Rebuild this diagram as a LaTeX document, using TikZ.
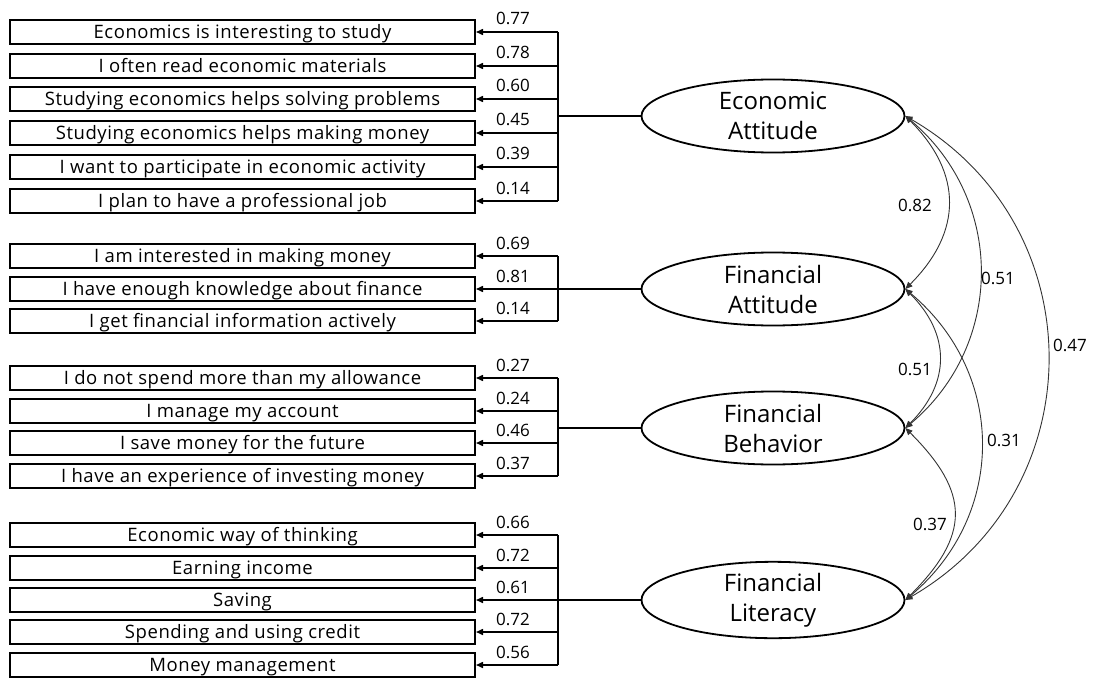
\documentclass[tikz,border=0pt]{standalone}
\usepackage{fontspec}
\setmainfont{Open Sans}
\newfontfamily\itemfont[LetterSpace=3]{Open Sans}
\usetikzlibrary{arrows.meta,shapes.geometric}
\begin{document}
\begin{tikzpicture}[x=1pt,y=-1pt,
  item/.style={draw, line width=2pt, minimum width=465pt, minimum height=24pt,
    inner sep=0pt, text height=12.5pt, text depth=0pt, font=\itemfont\fontsize{18.5}{20}\selectfont},
  latent/.style={draw, ellipse, line width=1.8pt, minimum width=263pt, minimum height=73pt,
    inner sep=0pt, align=center, font=\fontsize{24}{30}\selectfont},
  load/.style={line width=1.5pt, -{Triangle[length=7pt,width=6pt]}},
  bus/.style={line width=2pt},
  cov/.style={line width=0.9pt, draw=black!80,
    {Triangle[length=7pt,width=6pt]}-{Triangle[length=7pt,width=6pt]}},
  num/.style={font=\fontsize{17}{20}\selectfont, anchor=base, inner sep=0pt},
  covnum/.style={font=\fontsize{17}{20}\selectfont, inner sep=0pt}
]
\useasboundingbox (0,0) rectangle (1094,679);
\foreach \yy/\vv/\txt [count=\i] in {
  32/0.77/Economics is interesting to study,
  66/0.78/I often read economic materials,
  99/0.60/Studying economics helps solving problems,
  133/0.45/Studying economics helps making money,
  167/0.39/I want to participate in economic activity,
  201/0.14/I plan to have a professional job,
  256/0.69/I am interested in making money,
  289/0.81/I have enough knowledge about finance,
  321/0.14/I get financial information actively,
  378/0.27/I do not spend more than my allowance,
  411/0.24/I manage my account,
  443/0.46/I save money for the future,
  476/0.37/I have an experience of investing money,
  535/0.66/Economic way of thinking,
  568/0.72/Earning income,
  600/0.61/Saving,
  632/0.72/Spending and using credit,
  665/0.56/Money management}{
  \node[item] (b\i) at (242.5,\yy) {\txt};
  \coordinate (k\i) at (558,\yy);
  \draw[load] (k\i) -- (b\i.east);
  \node[num] at (513,\yy-7) {\vv};
}
% latent variables
\node[latent] (EA) at (773,116) {Economic\\Attitude};
\node[latent] (FA) at (773,289) {Financial\\Attitude};
\node[latent] (FB) at (773,428) {Financial\\Behavior};
\node[latent] (FL) at (773,600) {Financial\\Literacy};
% buses
\coordinate (jEA) at (558,116);
\coordinate (jFB) at (558,428);
\draw[bus] (k1) -- (k6);
\draw[bus] (jEA) -- (EA.west);
\draw[bus] (k7) -- (k9);
\draw[bus] (k8) -- (FA.west);
\draw[bus] (k10) -- (k13);
\draw[bus] (jFB) -- (FB.west);
\draw[bus] (k14) -- (k18);
\draw[bus] (k16) -- (FL.west);
% covariances
\draw[cov] (EA.east) .. controls +(45:81) and +(-45:81) .. (FA.east);
\draw[cov] (EA.east) .. controls +(40:130) and +(-40:130) .. (FB.east);
\draw[cov] (EA.east) .. controls +(30:219) and +(-30:219) .. (FL.east);
\draw[cov] (FA.east) .. controls +(45:64) and +(-45:64) .. (FB.east);
\draw[cov] (FA.east) .. controls +(40:132) and +(-40:132) .. (FL.east);
\draw[cov] (FB.east) .. controls +(45:92) and +(-45:92) .. (FL.east);
\node[covnum] (c1) at (915,205) {0.82};
\node[covnum] (c2) at (998,278) {0.51};
\node[covnum] (c3) at (1070,345) {0.47};
\node[covnum] (c4) at (915,369) {0.51};
\node[covnum] (c5) at (1004,440) {0.31};
\node[covnum] (c6) at (930,524) {0.37};
\end{tikzpicture}
\end{document}
